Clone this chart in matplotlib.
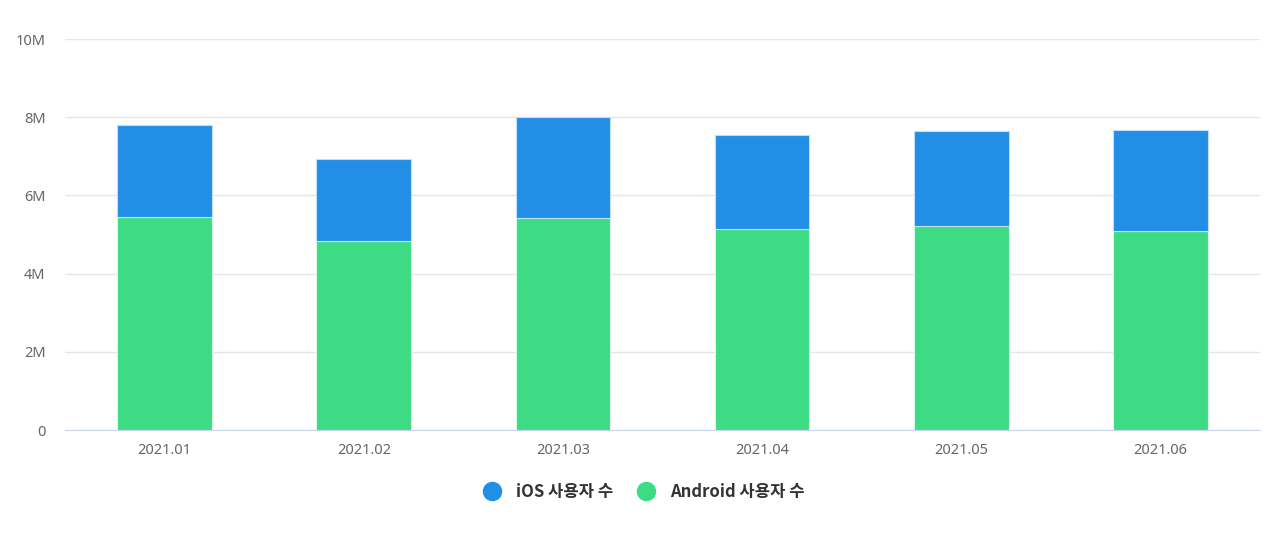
import matplotlib
matplotlib.use("Agg")
import matplotlib.pyplot as plt
from matplotlib.lines import Line2D

plt.rcParams['font.family'] = ['Noto Sans', 'Noto Sans CJK KR', 'DejaVu Sans']

months = ['2021.01', '2021.02', '2021.03', '2021.04', '2021.05', '2021.06']
android = [5.45, 4.83, 5.43, 5.13, 5.23, 5.10]
total = [7.81, 6.93, 8.01, 7.55, 7.65, 7.68]
ios = [t - a for t, a in zip(total, android)]
yticks = [0, 2, 4, 6, 8, 10]
ylabels = ['0', '2M', '4M', '6M', '8M', '10M']

c_ios = '#228ee6'
c_and = '#3ddc84'

fig = plt.figure(figsize=(12.8, 5.36), dpi=100)
ax = fig.add_axes([65/1280, 106/536, 1195/1280, 391/536])

x = range(len(months))
ax.bar(x, android, width=0.475, color=c_and, edgecolor='#d9f7e6', linewidth=0.8, zorder=3)
ax.bar(x, ios, bottom=android, width=0.475, color=c_ios, edgecolor='#bfe0f7', linewidth=0.8, zorder=3)

ax.set_xlim(-0.5, len(months) - 0.5)
ax.set_ylim(0, 10)
ax.set_yticks(yticks)
ax.set_yticklabels(ylabels)
ax.set_xticks(list(x))
ax.set_xticklabels(months)
ax.grid(axis='y', color='#e6e6e6', linewidth=1, zorder=0)
for s in ['top', 'right', 'left']:
    ax.spines[s].set_visible(False)
ax.spines['bottom'].set_color('#ccd6eb')
ax.tick_params(axis='y', length=0, pad=14, labelsize=10.5, labelcolor='#666666')
ax.tick_params(axis='x', length=0, pad=9, labelsize=10.5, labelcolor='#666666')

handles = [Line2D([], [], marker='o', linestyle='', markersize=13, color=c_ios),
           Line2D([], [], marker='o', linestyle='', markersize=13, color=c_and)]
fig.legend(handles, ['iOS 사용자 수', 'Android 사용자 수'], loc='center',
           bbox_to_anchor=(0.5, 44/536), ncol=2, frameon=False,
           prop={'family': 'Noto Sans CJK KR', 'size': 12, 'weight': 'bold'},
           labelcolor='#333333', handletextpad=0.4, columnspacing=1.0)

fig.savefig('out.png', dpi=100)
